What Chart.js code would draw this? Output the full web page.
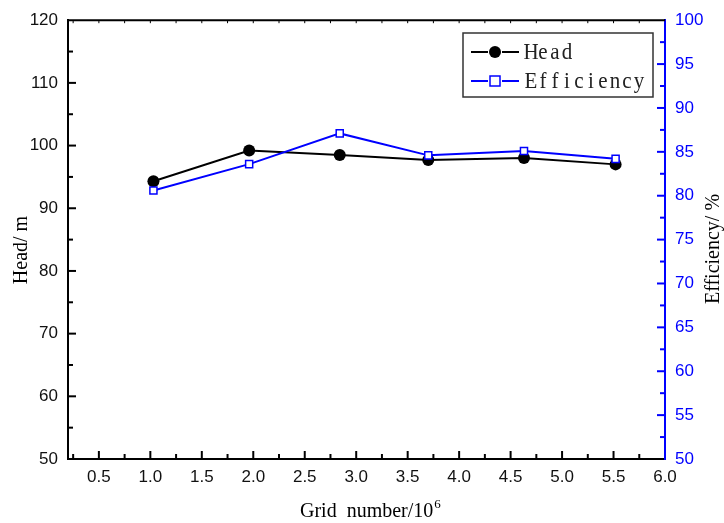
<!DOCTYPE html>
<html lang="en">

<head>
    <meta charset="UTF-8">
    <title>Head and efficiency vs grid number</title>
    <style>
        html, body { margin: 0; padding: 0; background: #fff; }
    </style>
</head>

<body>
    <canvas id="myChart" width="724" height="523"></canvas>

    <script src="https://cdn.jsdelivr.net/npm/chart.js@4.4.1/dist/chart.umd.min.js"></script>
    <script>
        // data
        const gridNumber = [1.03, 1.96, 2.84, 3.70, 4.63, 5.52];
        const headValues = [94.3, 99.2, 98.5, 97.7, 98.0, 97.0];
        const efficiencyValues = [80.6, 83.6, 87.1, 84.6, 85.1, 84.2];
        const xTicks = [0.5, 1.0, 1.5, 2.0, 2.5, 3.0, 3.5, 4.0, 4.5, 5.0, 5.5, 6.0];
        const headTicks = [50, 60, 70, 80, 90, 100, 110, 120];
        const effTicks = [50, 55, 60, 65, 70, 75, 80, 85, 90, 95, 100];

        const BLUE = '#0000ff';
        const tickFont = { family: 'Liberation Sans', size: 17 };

        // inward ticks, top border, axis titles and the boxed legend
        const decorations = {
            id: 'decorations',
            afterDraw(chart) {
                const ctx = chart.ctx;
                const a = chart.chartArea;
                const x = chart.scales.x, y = chart.scales.y, y1 = chart.scales.y1;
                ctx.save();
                ctx.lineWidth = 2;
                ctx.strokeStyle = '#000';
                // top border
                ctx.beginPath();
                ctx.moveTo(a.left - 1, a.top);
                ctx.lineTo(a.right, a.top);
                ctx.stroke();
                ctx.lineWidth = 1;
                for (let v = 0.25; v < 6; v += 0.25) {
                    const px = x.getPixelForValue(v);
                    ctx.beginPath();
                    ctx.moveTo(px, a.top);
                    ctx.lineTo(px, a.top + 3);
                    ctx.stroke();
                }
                ctx.lineWidth = 2;
                // bottom axis ticks
                for (let v = 0.25; v < 6; v += 0.25) {
                    const px = x.getPixelForValue(v);
                    const major = Math.abs(v * 2 - Math.round(v * 2)) < 1e-6;
                    ctx.beginPath();
                    ctx.moveTo(px, a.bottom);
                    ctx.lineTo(px, a.bottom - (major ? 8 : 5));
                    ctx.stroke();
                }
                // left axis ticks
                for (let v = 55; v < 120; v += 5) {
                    const py = y.getPixelForValue(v);
                    ctx.beginPath();
                    ctx.moveTo(a.left, py);
                    ctx.lineTo(a.left + (v % 10 === 0 ? 8 : 5), py);
                    ctx.stroke();
                }
                // right axis ticks
                ctx.strokeStyle = BLUE;
                for (let v = 52.5; v < 100; v += 2.5) {
                    const py = y1.getPixelForValue(v);
                    ctx.beginPath();
                    ctx.moveTo(a.right, py);
                    ctx.lineTo(a.right - (v % 5 === 0 ? 8 : 5), py);
                    ctx.stroke();
                }

                // axis titles
                ctx.fillStyle = '#000';
                ctx.font = '20px "Liberation Serif"';
                ctx.textAlign = 'center';
                ctx.textBaseline = 'middle';
                ctx.save();
                ctx.translate(22, 250);
                ctx.rotate(-Math.PI / 2);
                ctx.fillText('Head/ m', 0, 0);
                ctx.restore();
                ctx.save();
                ctx.translate(714, 249);
                ctx.rotate(-Math.PI / 2);
                ctx.fillText('Efficiency/ %', 0, 0);
                ctx.restore();

                ctx.textAlign = 'left';
                ctx.textBaseline = 'alphabetic';
                const main = 'Grid  number/10';
                ctx.fillText(main, 300, 517);
                const w = ctx.measureText(main).width;
                ctx.font = '13px "Liberation Serif"';
                ctx.fillText('6', 300 + w + 1, 508);

                // legend
                ctx.strokeStyle = '#333';
                ctx.lineWidth = 1.5;
                ctx.strokeRect(463, 33, 190, 64);
                const rows = [
                    { label: 'Head', color: '#000', yy: 52, marker: 'circle' },
                    { label: 'Efficiency', color: BLUE, yy: 81, marker: 'square' }
                ];
                rows.forEach(r => {
                    ctx.strokeStyle = r.color;
                    ctx.lineWidth = 2;
                    ctx.beginPath();
                    ctx.moveTo(471, r.yy);
                    ctx.lineTo(488, r.yy);
                    ctx.moveTo(502, r.yy);
                    ctx.lineTo(519, r.yy);
                    ctx.stroke();
                    if (r.marker === 'circle') {
                        ctx.fillStyle = '#000';
                        ctx.beginPath();
                        ctx.arc(495, r.yy, 6, 0, Math.PI * 2);
                        ctx.fill();
                    } else {
                        ctx.fillStyle = '#fff';
                        ctx.lineWidth = 1.5;
                        ctx.fillRect(490, r.yy - 5, 10, 10);
                        ctx.strokeRect(490, r.yy - 5, 10, 10);
                    }
                    // fixed-pitch serif text, like the original legend font
                    ctx.save();
                    ctx.fillStyle = '#222';
                    ctx.font = '21px "Liberation Serif"';
                    ctx.textAlign = 'center';
                    ctx.textBaseline = 'middle';
                    ctx.translate(525, r.yy + 1);
                    ctx.scale(1, 1.12);
                    r.label.split('').forEach((ch, i) => ctx.fillText(ch, 6 + i * 12, 0));
                    ctx.restore();
                });
                ctx.restore();
            }
        };

        const ctx = document.getElementById('myChart');
        const config = {
            type: 'line',
            data: {
                datasets: [
                    {
                        label: 'Head',
                        data: gridNumber.map((g, i) => ({ x: g, y: headValues[i] })),
                        yAxisID: 'y',
                        borderColor: '#000',
                        borderWidth: 2,
                        pointStyle: 'circle',
                        pointRadius: 6,
                        pointBackgroundColor: '#000',
                        pointBorderColor: '#000',
                        pointBorderWidth: 0,
                        tension: 0,
                        order: 2
                    },
                    {
                        label: 'Efficiency',
                        data: gridNumber.map((g, i) => ({ x: g, y: efficiencyValues[i] })),
                        yAxisID: 'y1',
                        borderColor: BLUE,
                        borderWidth: 2,
                        pointStyle: 'rect',
                        pointRadius: 5,
                        pointBackgroundColor: '#fff',
                        pointBorderColor: BLUE,
                        pointBorderWidth: 1.5,
                        tension: 0,
                        order: 1
                    }
                ]
            },
            options: {
                responsive: false,
                animation: false,
                layout: { padding: { top: 20, left: 0, right: 0, bottom: 0 } },
                plugins: {
                    legend: { display: false },
                    tooltip: { enabled: false }
                },
                scales: {
                    x: {
                        type: 'linear',
                        min: 0.2,
                        max: 6.0,
                        afterBuildTicks: s => { s.ticks = xTicks.map(v => ({ value: v })); },
                        afterFit: s => { s.height = 64; },
                        grid: { display: false, drawTicks: false },
                        border: { display: true, color: '#000', width: 2 },
                        ticks: {
                            font: tickFont,
                            color: '#111',
                            padding: 8,
                            maxRotation: 0,
                            autoSkip: false,
                            callback: v => Number(v).toFixed(1)
                        }
                    },
                    y: {
                        position: 'left',
                        min: 50,
                        max: 120,
                        afterBuildTicks: s => { s.ticks = headTicks.map(v => ({ value: v })); },
                        afterFit: s => { s.width = 68; },
                        grid: { display: false, drawTicks: false },
                        border: { display: true, color: '#000', width: 2 },
                        ticks: { font: tickFont, color: '#111', padding: 10 }
                    },
                    y1: {
                        position: 'right',
                        min: 50,
                        max: 100,
                        afterBuildTicks: s => { s.ticks = effTicks.map(v => ({ value: v })); },
                        afterFit: s => { s.width = 59; },
                        grid: { display: false, drawTicks: false },
                        border: { display: true, color: BLUE, width: 2 },
                        ticks: { font: tickFont, color: BLUE, padding: 10 }
                    }
                }
            },
            plugins: [decorations]
        };
        const chart = new Chart(ctx, config);
    </script>

</body>

</html>
